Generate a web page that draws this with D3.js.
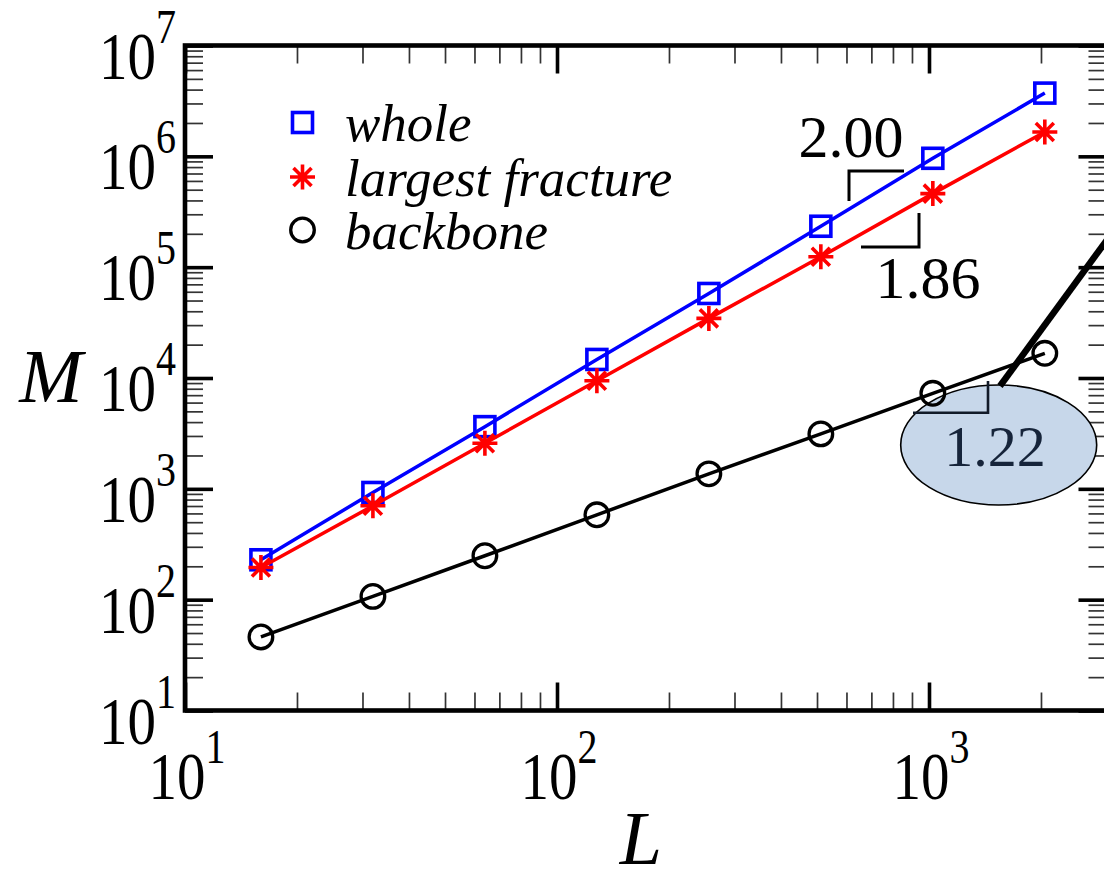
<!DOCTYPE html>
<html>
<head>
<meta charset="utf-8">
<script src="https://cdn.jsdelivr.net/npm/d3@7"></script>
<style>
  html, body { margin: 0; padding: 0; background: #fff; }
  svg { display: block; }
  text { font-family: "Liberation Serif", "Times New Roman", serif; }
</style>
</head>
<body>
<svg id="chart" width="1104" height="870"></svg>
<script>
// System sizes and measured masses
const sizes = [16, 32, 64, 128, 256, 512, 1024, 2048];
const wholeMass = [229, 927, 3640, 14700, 57900, 234000, 960000, 3720000];
const largestMass = [195, 703, 2580, 9440, 34500, 124000, 461000, 1660000];
const backboneMass = [46.1, 107, 249, 583, 1365, 3130, 7280, 16700];

const seriesNames = ["whole", "largest fracture", "backbone"];
const xTickExponents = [1, 2, 3];
const yTickExponents = [1, 2, 3, 4, 5, 6, 7];
const slopeLabels = ["2.00", "1.86", "1.22"];

const svg = d3.select("#chart");

const plotLeft = 185, plotTop = 45.5, plotBottom = 710.5;
const decadeX = 372;
const x = d3.scaleLog().domain([10, 3000]).range([plotLeft, plotLeft + decadeX * Math.log10(300)]);
const y = d3.scaleLog().domain([10, 1e7]).range([plotBottom, plotTop]);
const plotRight = x.range()[1];

// minor ticks 2..9 per decade
const minorX = [];
[10, 100, 1000].forEach(d => { for (let k = 2; k <= 9; k++) if (d * k < 3000) minorX.push(d * k); });
const minorY = [];
[10, 100, 1000, 1e4, 1e5, 1e6].forEach(d => { for (let k = 2; k <= 9; k++) minorY.push(d * k); });
const majorX = xTickExponents.map(e => Math.pow(10, e));
const majorY = yTickExponents.map(e => Math.pow(10, e));

function tickAxis(gen, scale, values, size, transform, width, color) {
  const g = svg.append("g").attr("transform", transform)
    .call(gen(scale).tickValues(values).tickSize(-size).tickFormat(""));
  g.select(".domain").remove();
  g.selectAll(".tick line").attr("stroke", color).attr("stroke-width", width);
  return g;
}
// minor ticks on all four sides
tickAxis(d3.axisBottom, x, minorX, 18, `translate(0,${plotBottom})`, 1.7, "#333");
tickAxis(d3.axisTop, x, minorX, 18, `translate(0,${plotTop})`, 1.7, "#333");
tickAxis(d3.axisLeft, y, minorY, 18, `translate(${plotLeft},0)`, 1.7, "#333");
tickAxis(d3.axisRight, y, minorY, 18, `translate(${plotRight},0)`, 1.7, "#333");
// major ticks
tickAxis(d3.axisBottom, x, majorX, 28, `translate(0,${plotBottom})`, 3.6, "#000");
tickAxis(d3.axisTop, x, majorX, 28, `translate(0,${plotTop})`, 3.6, "#000");
tickAxis(d3.axisLeft, y, majorY, 28, `translate(${plotLeft},0)`, 3.6, "#000");
tickAxis(d3.axisRight, y, majorY, 28, `translate(${plotRight},0)`, 3.6, "#000");

// frame
svg.append("rect")
  .attr("x", plotLeft).attr("y", plotTop)
  .attr("width", plotRight - plotLeft).attr("height", plotBottom - plotTop)
  .attr("fill", "none").attr("stroke", "#000").attr("stroke-width", 4.6);

// power-of-ten tick labels
function powerLabel(px, py, exp, anchor) {
  const t = svg.append("text")
    .attr("transform", `translate(${px},${py}) scale(1,1.2)`)
    .attr("text-anchor", anchor)
    .attr("fill", "#000");
  t.append("tspan").attr("font-size", 57).text("10");
  t.append("tspan").attr("font-size", 40).attr("dy", -30).text(exp);
}
xTickExponents.forEach(e => powerLabel(x(Math.pow(10, e)) + 2, plotBottom + 88.5, e, "middle"));
yTickExponents.forEach(e => powerLabel(176, y(Math.pow(10, e)) + 33, e, "end"));

// axis titles
svg.append("text").attr("x", 51).attr("y", 402).attr("text-anchor", "middle")
  .attr("font-size", 76).attr("font-style", "italic").text("M");
svg.append("text").attr("x", 641).attr("y", 864).attr("text-anchor", "middle")
  .attr("font-size", 76).attr("font-style", "italic").text("L");

// callout ellipse for backbone slope
svg.append("ellipse")
  .attr("cx", 998.7).attr("cy", 445).attr("rx", 98).attr("ry", 60)
  .attr("fill", "#c7d7ea").attr("stroke", "#000").attr("stroke-width", 1.6);
svg.append("line")
  .attr("x1", 1000).attr("y1", 386).attr("x2", 1112).attr("y2", 233)
  .attr("stroke", "#000").attr("stroke-width", 6.5);

// marker shapes
function square(g, cx, cy, color) {
  g.append("rect").attr("x", cx - 10).attr("y", cy - 10).attr("width", 20).attr("height", 20)
    .attr("fill", "none").attr("stroke", color).attr("stroke-width", 3.6);
}
function star(g, cx, cy, color) {
  const r = 12.5, d = 9;
  const p = `M${cx - r},${cy}H${cx + r}M${cx},${cy - r}V${cy + r}` +
            `M${cx - d},${cy - d}L${cx + d},${cy + d}M${cx - d},${cy + d}L${cx + d},${cy - d}`;
  g.append("path").attr("d", p).attr("fill", "none").attr("stroke", color).attr("stroke-width", 3.6);
}
function ring(g, cx, cy, color) {
  g.append("circle").attr("cx", cx).attr("cy", cy).attr("r", 11.8)
    .attr("fill", "none").attr("stroke", color).attr("stroke-width", 3.3);
}

const series = [
  { values: wholeMass, color: "#0000ff", marker: square },
  { values: largestMass, color: "#ff0000", marker: star },
  { values: backboneMass, color: "#000000", marker: ring }
];

const line = d3.line().x(d => x(d[0])).y(d => y(d[1]));
series.forEach(s => {
  const pts = sizes.map((L, i) => [L, s.values[i]]);
  svg.append("path").attr("d", line(pts))
    .attr("fill", "none").attr("stroke", s.color).attr("stroke-width", 3.5);
  const g = svg.append("g");
  pts.forEach(p => s.marker(g, x(p[0]), y(p[1]), s.color));
});

// slope brackets and labels
svg.append("path").attr("d", "M849,201V171H904")
  .attr("fill", "none").attr("stroke", "#000").attr("stroke-width", 3);
svg.append("path").attr("d", "M861,247H919V213")
  .attr("fill", "none").attr("stroke", "#000").attr("stroke-width", 3);
svg.append("path").attr("d", "M913,412.7H988V381")
  .attr("fill", "none").attr("stroke", "#111a28").attr("stroke-width", 2.6);

svg.append("text").attr("x", 851).attr("y", 157).attr("text-anchor", "middle")
  .attr("font-size", 60).text(slopeLabels[0]);
svg.append("text").attr("x", 928).attr("y", 298).attr("text-anchor", "middle")
  .attr("font-size", 60).text(slopeLabels[1]);
svg.append("text").attr("x", 995).attr("y", 466).attr("text-anchor", "middle")
  .attr("font-size", 58).attr("fill", "#16243a").text(slopeLabels[2]);

// legend
const legendY = [122.5, 177, 230];
const lg = svg.append("g");
series.forEach((s, i) => {
  s.marker(lg, 302.5, legendY[i], s.color);
  lg.append("text").attr("x", 345).attr("y", legendY[i] + 18.5)
    .attr("font-size", 53).attr("font-style", "italic").text(seriesNames[i]);
});
</script>
</body>
</html>
